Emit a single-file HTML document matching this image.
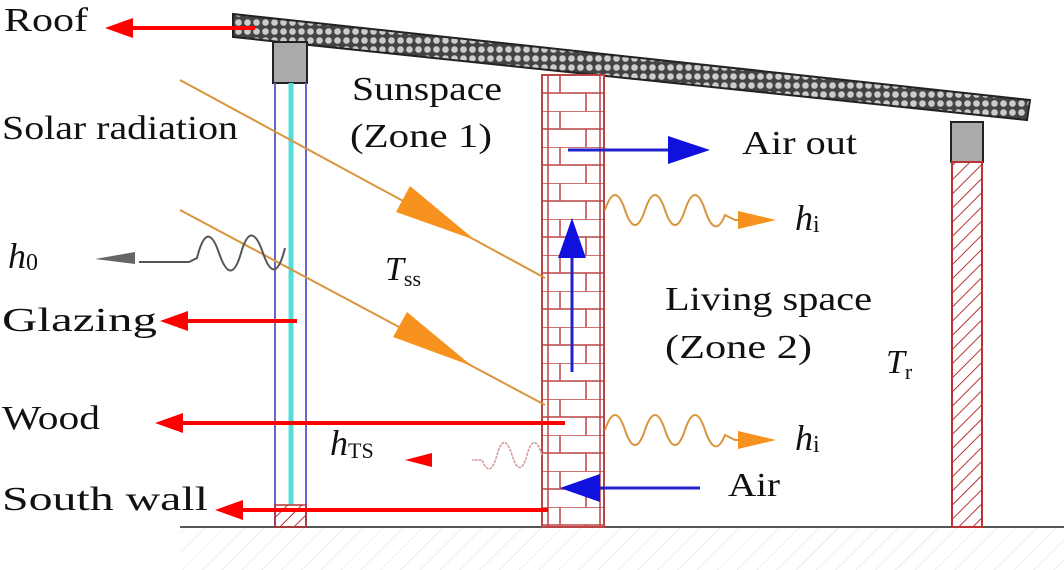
<!DOCTYPE html>
<html><head><meta charset="utf-8"><style>
html,body{margin:0;padding:0;background:#fff;}
svg{display:block;}
text{font-family:"Liberation Serif",serif;fill:#111;}
</style></head><body>
<svg width="1064" height="570" viewBox="0 0 1064 570" xmlns="http://www.w3.org/2000/svg">
<defs>
<pattern id="brick" x="542" y="75" width="62" height="36" patternUnits="userSpaceOnUse">
<rect width="62" height="36" fill="#fff"/>
<path d="M0 0H62M0 18H62M18 0V18M44 18V36" stroke="#b44" stroke-width="1.5" fill="none"/>
</pattern>
<pattern id="hatch" width="10" height="10" patternUnits="userSpaceOnUse" patternTransform="rotate(45)">
<line x1="0" y1="0" x2="0" y2="10" stroke="#b33" stroke-width="2"/>
</pattern>
<pattern id="ghatch" width="14" height="14" patternUnits="userSpaceOnUse" patternTransform="rotate(45)">
<line x1="0" y1="0" x2="0" y2="14" stroke="#ddd" stroke-width="1"/>
</pattern>
<pattern id="roofp" width="9" height="9" patternUnits="userSpaceOnUse">
<rect width="9" height="9" fill="#444"/>
<circle cx="4.5" cy="4.5" r="3.3" fill="#ccc"/>
</pattern>
</defs>
<rect x="180" y="528" width="884" height="42" fill="url(#ghatch)"/>
<line x1="180" y1="527" x2="1064" y2="527" stroke="#555" stroke-width="2"/>
<polygon points="233,14 1030,100 1027,120 233,37" fill="url(#roofp)" stroke="#222" stroke-width="2"/>
<rect x="273" y="42" width="34" height="41" fill="#aaa" stroke="#222" stroke-width="2"/>
<line x1="275" y1="83" x2="275" y2="527" stroke="#66c" stroke-width="2"/>
<line x1="306" y1="83" x2="306" y2="527" stroke="#66c" stroke-width="2"/>
<line x1="291" y1="83" x2="291" y2="505" stroke="#5dd" stroke-width="5"/>
<rect x="275" y="505" width="31" height="22" fill="url(#hatch)" stroke="#b33" stroke-width="1.5"/>
<rect x="542" y="75" width="62" height="452" fill="url(#brick)" stroke="#b44" stroke-width="2"/>
<line x1="548" y1="75" x2="548" y2="527" stroke="#b44" stroke-width="1.5"/>
<line x1="600" y1="75" x2="600" y2="527" stroke="#b44" stroke-width="1.5"/>
<rect x="951" y="122" width="32" height="40" fill="#aaa" stroke="#222" stroke-width="2"/>
<rect x="952" y="162" width="30" height="365" fill="url(#hatch)" stroke="#b33" stroke-width="2"/>
<line x1="180" y1="80" x2="545" y2="278" stroke="#d9953c" stroke-width="2"/>
<polygon points="475,240 396,212 410,186" fill="#f7921e"/>
<line x1="180" y1="210" x2="545" y2="405" stroke="#d9953c" stroke-width="2"/>
<polygon points="472,366 393,337 407,312" fill="#f7921e"/>
<line x1="568" y1="150" x2="672" y2="150" stroke="#22c" stroke-width="3"/>
<polygon points="668,136 710,150 668,164" fill="#11d"/>
<line x1="572" y1="372" x2="572" y2="255" stroke="#22c" stroke-width="3"/>
<polygon points="558,258 572,218 586,258" fill="#11d"/>
<line x1="700" y1="488" x2="598" y2="488" stroke="#22c" stroke-width="3"/>
<polygon points="600,474 560,488 600,502" fill="#11d"/>
<g stroke="#f00" stroke-width="4">
<line x1="255" y1="28" x2="128" y2="28"/>
<line x1="297" y1="321" x2="185" y2="321"/>
<line x1="565" y1="423" x2="180" y2="423"/>
<line x1="548" y1="510" x2="240" y2="510"/>
<line x1="432" y1="460" x2="415" y2="460" stroke-width="3"/>
</g>
<g fill="#f00">
<polygon points="133,18 105,28 133,38"/>
<polygon points="188,311 160,321 188,331"/>
<polygon points="183,413 155,423 183,433"/>
<polygon points="243,500 215,510 243,520"/>
<polygon points="432,453 405,460 432,467"/>
</g>
<g fill="none" stroke="#d9953c" stroke-width="2">
<path d="M605,210 q10,-30 20,0 t20,0 t20,0 t20,0 t20,0 t20,5 l10,5 h35"/>
<path d="M605,430 q10,-30 20,0 t20,0 t20,0 t20,0 t20,0 t20,5 l10,5 h35"/>
</g>
<polygon points="738,211 776,220 738,229" fill="#f7921e"/>
<polygon points="738,431 776,440 738,449" fill="#f7921e"/>
<path d="M285,248 q-10,40 -22,5 t-22,0 t-22,0 t-22,5 l-8,4 h-50" fill="none" stroke="#555" stroke-width="2"/>
<polygon points="135,252 95,259 135,264" fill="#666"/>
<path d="M542,455 q-8,-25 -15,0 t-15,0 t-15,0 t-15,5 l-10,0" fill="none" stroke="#c99" stroke-width="1.5" stroke-dasharray="3,1"/>
<g font-size="34">
<text x="4" y="31" textLength="84" lengthAdjust="spacingAndGlyphs">Roof</text>
<text x="2" y="139" textLength="236" lengthAdjust="spacingAndGlyphs">Solar radiation</text>
<text x="2" y="331" textLength="155" lengthAdjust="spacingAndGlyphs">Glazing</text>
<text x="2" y="429" textLength="98" lengthAdjust="spacingAndGlyphs">Wood</text>
<text x="2" y="510" textLength="206" lengthAdjust="spacingAndGlyphs">South wall</text>
<text x="352" y="100" textLength="150" lengthAdjust="spacingAndGlyphs">Sunspace</text>
<text x="350" y="147" textLength="142" lengthAdjust="spacingAndGlyphs">(Zone 1)</text>
<text x="742" y="154" textLength="115" lengthAdjust="spacingAndGlyphs">Air out</text>
<text x="665" y="310" textLength="207" lengthAdjust="spacingAndGlyphs">Living space</text>
<text x="665" y="358" textLength="147" lengthAdjust="spacingAndGlyphs">(Zone 2)</text>
<text x="728" y="496" textLength="52" lengthAdjust="spacingAndGlyphs">Air</text>
<text x="8" y="268" font-style="italic" font-size="36">h<tspan font-style="normal" font-size="24" dy="2">0</tspan></text>
<text x="385" y="280" font-style="italic">T<tspan font-style="normal" font-size="22" dy="6">ss</tspan></text>
<text x="330" y="455" font-style="italic" font-size="36">h<tspan font-style="normal" font-size="22" dy="3">TS</tspan></text>
<text x="795" y="230" font-style="italic" font-size="36">h<tspan font-style="normal" font-size="24" dy="2">i</tspan></text>
<text x="795" y="450" font-style="italic" font-size="36">h<tspan font-style="normal" font-size="24" dy="2">i</tspan></text>
<text x="886" y="373" font-style="italic">T<tspan font-style="normal" font-size="22" dy="6">r</tspan></text>
</g>
</svg>
</body></html>
